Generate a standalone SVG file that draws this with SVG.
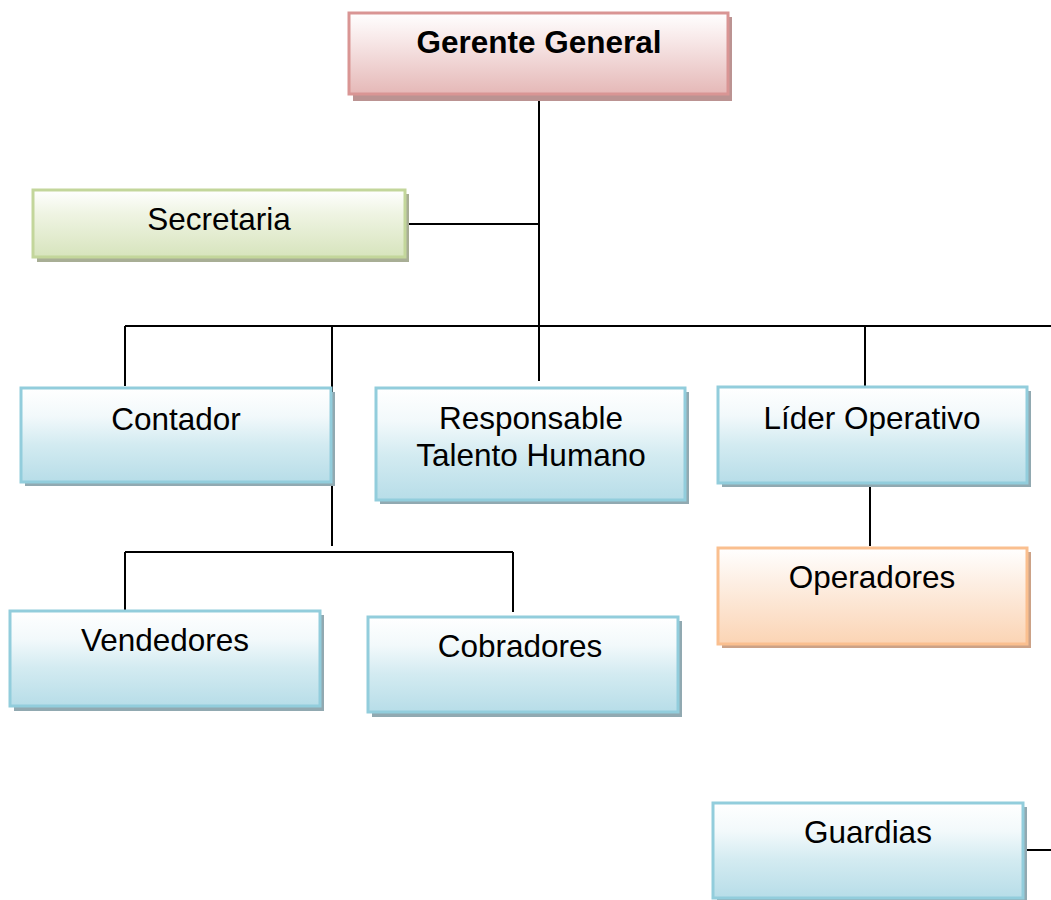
<svg xmlns="http://www.w3.org/2000/svg" width="1051" height="900" viewBox="0 0 1051 900">
<defs>
<linearGradient id="gRed" x1="0" y1="0" x2="0" y2="1"><stop offset="0" stop-color="#ffffff"/><stop offset="0.35" stop-color="#f7e7e7"/><stop offset="1" stop-color="#e5b8b7"/></linearGradient>
<linearGradient id="gGreen" x1="0" y1="0" x2="0" y2="1"><stop offset="0" stop-color="#ffffff"/><stop offset="0.35" stop-color="#eff4e3"/><stop offset="1" stop-color="#d7e4bd"/></linearGradient>
<linearGradient id="gBlue" x1="0" y1="0" x2="0" y2="1"><stop offset="0" stop-color="#ffffff"/><stop offset="0.3" stop-color="#f2f9fb"/><stop offset="0.6" stop-color="#d3ebf1"/><stop offset="1" stop-color="#b7dde8"/></linearGradient>
<linearGradient id="gOrange" x1="0" y1="0" x2="0" y2="1"><stop offset="0" stop-color="#ffffff"/><stop offset="0.35" stop-color="#fdefe4"/><stop offset="1" stop-color="#fbd4b4"/></linearGradient>
</defs>
<style>
.txt{font-family:"Liberation Sans",Arial,sans-serif;font-size:31.5px;fill:#000;text-anchor:middle}
.bold{font-weight:bold}
.red{fill:url(#gRed);stroke:#d99594;stroke-width:3}
.redS{fill:#bb9392}
.green{fill:url(#gGreen);stroke:#c3d69b;stroke-width:3}
.greenS{fill:#a8ae95}
.blue{fill:url(#gBlue);stroke:#92cddc;stroke-width:3}
.blueS{fill:#91a9b1}
.orange{fill:url(#gOrange);stroke:#fabf8f;stroke-width:3}
.orangeS{fill:#cca287}
.conn{stroke:#000;stroke-width:2;fill:none}
</style>
<rect width="1051" height="900" fill="#ffffff"/>
<g id="connectors">
<line class="conn" x1="539" y1="95" x2="539" y2="381"/>
<line class="conn" x1="408" y1="224" x2="539" y2="224"/>
<line class="conn" x1="125" y1="326" x2="1051" y2="326"/>
<line class="conn" x1="125" y1="326" x2="125" y2="386"/>
<line class="conn" x1="332" y1="326" x2="332" y2="546"/>
<line class="conn" x1="865" y1="326" x2="865" y2="387"/>
<line class="conn" x1="870" y1="486" x2="870" y2="546"/>
<line class="conn" x1="125" y1="552" x2="513" y2="552"/>
<line class="conn" x1="125" y1="552" x2="125" y2="612"/>
<line class="conn" x1="513" y1="552" x2="513" y2="612"/>
<line class="conn" x1="1026" y1="850" x2="1051" y2="850"/>
</g>
<g id="gerente">
<rect class="redS" x="353" y="17" width="379" height="84"/>
<rect class="red" x="349" y="13" width="379" height="81"/>
<text class="txt bold" x="539" y="53">Gerente General</text>
</g>
<g id="secretaria">
<rect class="greenS" x="37" y="194" width="372" height="68"/>
<rect class="green" x="33" y="190" width="372" height="67"/>
<text class="txt" x="219" y="230">Secretaria</text>
</g>
<g id="contador">
<rect class="blueS" x="25" y="392" width="310" height="94"/>
<rect class="blue" x="21" y="388" width="310" height="94"/>
<text class="txt" x="176" y="430">Contador</text>
</g>
<g id="responsable">
<rect class="blueS" x="380" y="392" width="309" height="112"/>
<rect class="blue" x="376" y="388" width="309" height="112"/>
<text class="txt" x="531" y="429">Responsable</text>
<text class="txt" x="531" y="466">Talento Humano</text>
</g>
<g id="lider">
<rect class="blueS" x="722" y="391" width="309" height="96"/>
<rect class="blue" x="718" y="387" width="309" height="96"/>
<text class="txt" x="872" y="429">Líder Operativo</text>
</g>
<g id="operadores">
<rect class="orangeS" x="722" y="552" width="309" height="96"/>
<rect class="orange" x="718" y="548" width="309" height="96"/>
<text class="txt" x="872" y="588">Operadores</text>
</g>
<g id="vendedores">
<rect class="blueS" x="14" y="615" width="310" height="96"/>
<rect class="blue" x="10" y="611" width="310" height="95"/>
<text class="txt" x="165" y="651">Vendedores</text>
</g>
<g id="cobradores">
<rect class="blueS" x="372" y="621" width="310" height="96"/>
<rect class="blue" x="368" y="617" width="310" height="95"/>
<text class="txt" x="520" y="657">Cobradores</text>
</g>
<g id="guardias">
<rect class="blueS" x="717" y="807" width="310" height="95"/>
<rect class="blue" x="713" y="803" width="310" height="95"/>
<text class="txt" x="868" y="843">Guardias</text>
</g>
</svg>
